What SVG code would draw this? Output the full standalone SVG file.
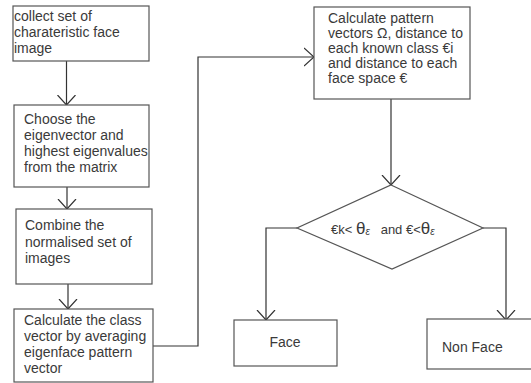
<svg xmlns="http://www.w3.org/2000/svg" width="531" height="383" viewBox="0 0 531 383">
<style>
.box{fill:#fff;stroke:#555;stroke-width:1.2}
.t{font-family:"Liberation Sans",Arial,sans-serif;font-size:14px;fill:#3a3a3a}
.c{fill:none;stroke:#333;stroke-width:1.2}
</style>
<defs>
<marker id="ah" viewBox="0 0 10 20" refX="10" refY="10" markerWidth="10" markerHeight="20" markerUnits="userSpaceOnUse" orient="auto">
<path d="M0,1 L10,10 L0,19" fill="none" stroke="#333" stroke-width="1.2"/>
</marker>
</defs>
<rect width="531" height="383" fill="#fff"/>
<g id="connectors">
<path class="c" d="M66.5,61 V105" marker-end="url(#ah)"/>
<path class="c" d="M67,187 V209" marker-end="url(#ah)"/>
<path class="c" d="M68,284 V309" marker-end="url(#ah)"/>
<path class="c" d="M153,346 H198 V57 H314" marker-end="url(#ah)"/>
<path class="c" d="M391,99 V185" marker-end="url(#ah)"/>
<path class="c" d="M297,228 H266 V320" marker-end="url(#ah)"/>
<path class="c" d="M483,228 H506 V320" marker-end="url(#ah)"/>
</g>
<g id="collect">
<rect class="box" x="13" y="6" width="136" height="55"/>
<text class="t" x="14" y="21">collect set of</text>
<text class="t" x="14" y="37">charateristic face</text>
<text class="t" x="14" y="53">image</text>
</g>
<g id="choose">
<rect class="box" x="14" y="105" width="135" height="82"/>
<text class="t" x="24" y="124">Choose the</text>
<text class="t" x="24" y="140">eigenvector and</text>
<text class="t" x="24" y="156">highest eigenvalues</text>
<text class="t" x="24" y="172">from the matrix</text>
</g>
<g id="combine">
<rect class="box" x="16" y="209" width="136" height="75"/>
<text class="t" x="25" y="230">Combine the</text>
<text class="t" x="25" y="247">normalised set of</text>
<text class="t" x="25" y="263">images</text>
</g>
<g id="classvector">
<rect class="box" x="14" y="309" width="139" height="73"/>
<text class="t" x="24" y="325">Calculate the class</text>
<text class="t" x="24" y="341">vector by averaging</text>
<text class="t" x="24" y="357">eigenface pattern</text>
<text class="t" x="24" y="373">vector</text>
</g>
<g id="pattern">
<rect class="box" x="314" y="7" width="156" height="92"/>
<text class="t" x="328" y="23">Calculate pattern</text>
<text class="t" x="328" y="38">vectors Ω, distance to</text>
<text class="t" x="328" y="53">each known class €i</text>
<text class="t" x="328" y="68">and distance to each</text>
<text class="t" x="328" y="83">face space €</text>
</g>
<g id="decision">
<polygon class="box" points="391,185 483,228 392,269 297,228"/>
<text class="t" x="331" y="234" style="font-size:13px">€k&lt; <tspan style="font-size:17px;font-weight:300">θ</tspan><tspan style="font-style:italic;font-size:10px" dy="1">ε</tspan><tspan dy="-1" xml:space="preserve">   and €&lt;</tspan><tspan style="font-size:17px">θ</tspan><tspan style="font-style:italic;font-size:10px" dy="1">ε</tspan></text>
</g>
<g id="face">
<rect class="box" x="234" y="320" width="103" height="46"/>
<text class="t" x="285" y="347" text-anchor="middle">Face</text>
</g>
<g id="nonface">
<rect class="box" x="427" y="319" width="110" height="50"/>
<text class="t" x="442" y="352">Non Face</text>
</g>
</svg>
